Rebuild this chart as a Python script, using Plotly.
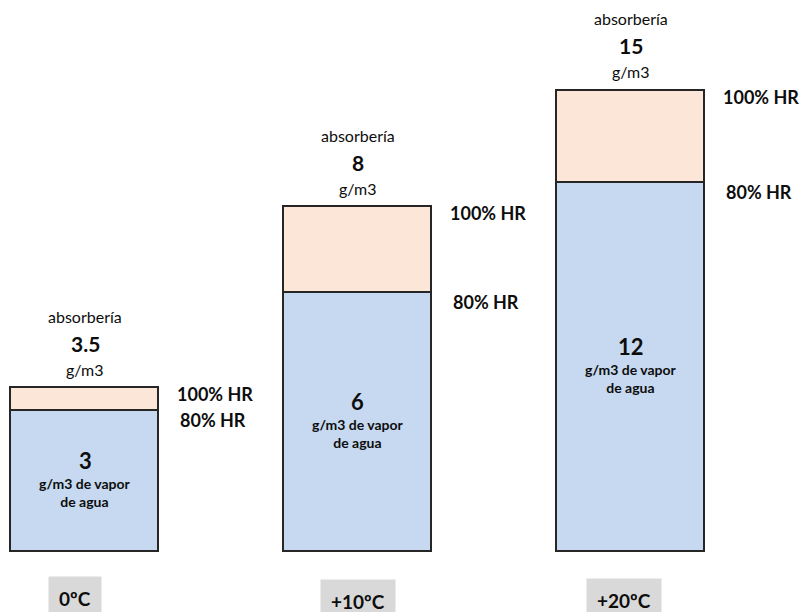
import plotly.graph_objects as go

# Water vapour content (g/m3) at 80% and 100% relative humidity
temps = ["0ºC", "+10ºC", "+20ºC"]
hr80 = [3, 6, 12]
hr100 = [3.5, 8, 15]

# per-column layout: horizontal centre (px), y-range of each column's axis,
# and offset of the temperature tag from the column centre
centers_px = [85, 357.5, 630.5]
y_ranges = [[-1.28, 11.78], [-1.39, 12.8], [-1.95, 17.96]]
tag_shift = [-10, 0, -7]
tag_top = [-24, -27, -26]

W, H = 801, 612
FONT = "Lato"
BLUE = "#c6d9f0"
PEACH = "#fce6d8"
EDGE = "#262626"

fig = go.Figure()
layout = dict(
    width=W, height=H, margin=dict(l=0, r=0, t=0, b=0),
    paper_bgcolor="white", plot_bgcolor="rgba(0,0,0,0)",
    barmode="stack", bargap=0, showlegend=False,
    font=dict(family=FONT, color="#0d0d0d"),
)
annotations = []

for i, t in enumerate(temps):
    sfx = "" if i == 0 else str(i + 1)
    xa, ya = "x" + sfx, "y" + sfx
    c = centers_px[i]
    layout["xaxis" + sfx] = dict(domain=[(c - 77) / W, (c + 77) / W], range=[-0.52, 0.52],
                                 visible=False, fixedrange=True, type="linear")
    layout["yaxis" + sfx] = dict(domain=[0, 1], range=y_ranges[i], visible=False, fixedrange=True)

    line = dict(color=EDGE, width=1.6)
    fig.add_bar(x=[0], y=[hr80[i]], width=[1], xaxis=xa, yaxis=ya,
                marker=dict(color=BLUE, line=line), hoverinfo="skip")
    fig.add_bar(x=[0], y=[hr100[i] - hr80[i]], width=[1], xaxis=xa, yaxis=ya,
                marker=dict(color=PEACH, line=line), hoverinfo="skip")

    top = hr100[i]
    # labels above the column
    annotations += [
        dict(x=0, y=top, xref=xa, yref=ya, text="absorbería", showarrow=False,
             yanchor="middle", yshift=72, font=dict(size=16)),
        dict(x=0, y=top, xref=xa, yref=ya, text=f"<b>{top:g}</b>", showarrow=False,
             yanchor="middle", yshift=45, font=dict(size=21)),
        dict(x=0, y=top, xref=xa, yref=ya, text="g/m3", showarrow=False,
             yanchor="middle", yshift=19, font=dict(size=16)),
    ]
    # labels inside the blue segment
    mid = hr80[i] / 2
    annotations += [
        dict(x=0, y=mid, xref=xa, yref=ya, text=f"<b>{hr80[i]:g}</b>", showarrow=False,
             yanchor="middle", yshift=21, font=dict(size=22)),
        dict(x=0, y=mid, xref=xa, yref=ya, text="<b>g/m3 de vapor<br>de agua</b>",
             showarrow=False, yanchor="middle", yshift=-11, font=dict(size=14)),
    ]
    # humidity markers to the right of the column
    annotations += [
        dict(x=0.5, y=hr100[i], xref=xa, yref=ya, text="<b>100% HR</b>", showarrow=False,
             xanchor="center", yanchor="middle", xshift=56, yshift=-6, font=dict(size=18)),
        dict(x=0.5, y=hr80[i], xref=xa, yref=ya, text="<b>80% HR</b>", showarrow=False,
             xanchor="center", yanchor="middle", xshift=54, yshift=-9, font=dict(size=18)),
    ]
    # temperature tag below the column
    annotations.append(
        dict(x=0, y=0, xref=xa, yref=ya, text=f"<b>{t}</b>", showarrow=False,
             xanchor="center", yanchor="top", xshift=tag_shift[i], yshift=tag_top[i],
             bgcolor="#d9d9d9", borderpad=10, font=dict(size=19)))

layout["annotations"] = annotations
fig.update_layout(**layout)
fig.write_html("out.html")
